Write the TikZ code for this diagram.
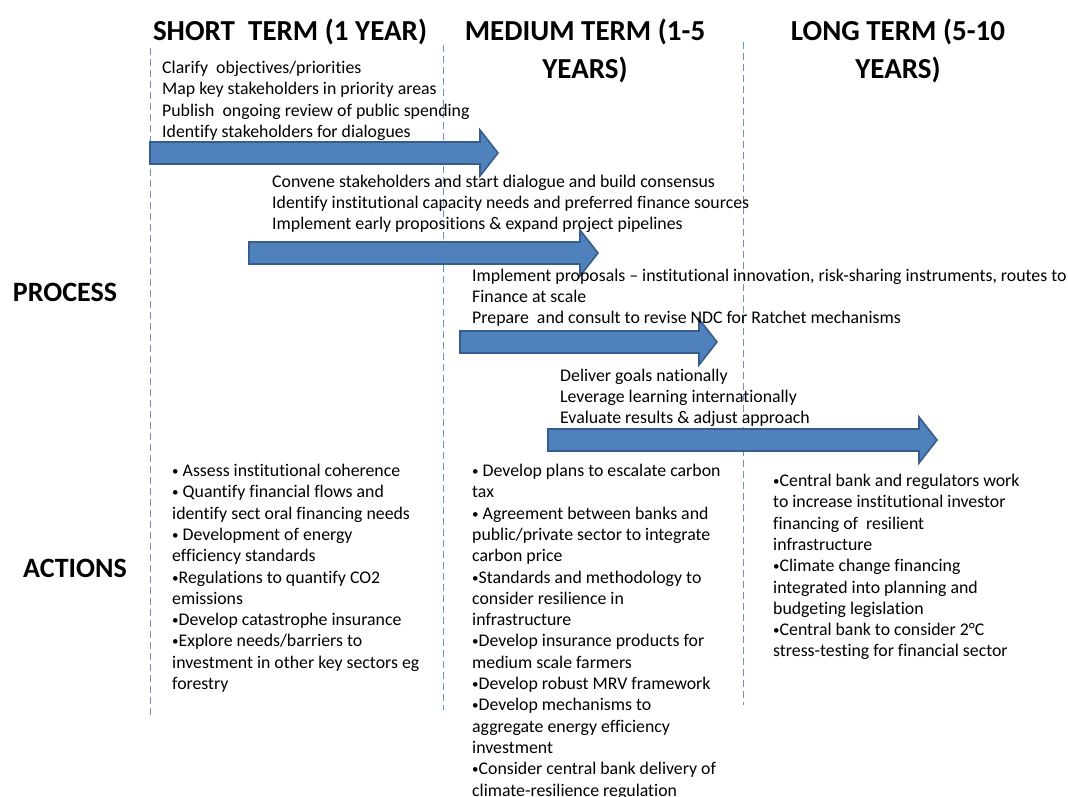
\documentclass[tikz,border=0pt]{standalone}
\usepackage{fontspec}
\setmainfont{Carlito}[Ligatures=CommonOff]
\newcommand\bul{\raisebox{0.12ex}{\fontsize{13}{13}\selectfont•}}
\begin{document}
\begin{tikzpicture}[x=1pt,y=-1pt,
  divider/.style={line width=0.8pt, dash pattern=on 7pt off 4pt, opacity=0.85},
  bigarrow/.style={fill={rgb,255:red,79;green,129;blue,189}, draw={rgb,255:red,56;green,93;blue,138}, line width=1.6pt, line join=miter},
  header/.style={font=\fontsize{29}{38}\selectfont\bfseries, align=center, inner sep=0pt, anchor=base},
  rowlabel/.style={font=\fontsize{28}{30}\selectfont\bfseries, inner sep=0pt},
  body/.style={font=\fontsize{17.8}{21.3}\selectfont, align=left, inner sep=0pt, anchor=north west},
]
\useasboundingbox (0,0) rectangle (1068,796);
\definecolor{divc}{RGB}{79,129,189}
% dividers
\coordinate (d1t) at (150,48); \coordinate (d1b) at (150,716);
\coordinate (d2t) at (443,45); \coordinate (d2b) at (443,710);
\coordinate (d3t) at (743,42); \coordinate (d3b) at (743,705);
\draw[divider, draw=divc] (d1t) -- (d1b);
\draw[divider, draw=divc] (d2t) -- (d2b);
\draw[divider, draw=divc] (d3t) -- (d3b);
% headers
\node[header] (hs) at (290,40) {SHORT\ \ TERM (1 YEAR)};
\node[header] (hm) at (585,40) {MEDIUM TERM (1-5};
\node[header] (hm2) at (585,78) {YEARS)};
\node[header] (hl) at (898,40) {LONG TERM (5-10};
\node[header] (hl2) at (898,78) {YEARS)};
% row labels
\node[rowlabel] (proc) at (65,292) {PROCESS};
\node[rowlabel] (act) at (75,568) {ACTIONS};
% arrows
\draw[bigarrow] (150,142) -- (480,142) -- (480,130) -- (498,153) -- (480,176) -- (480,164) -- (150,164) -- cycle;
\draw[bigarrow] (249,242) -- (580,242) -- (580,230) -- (598,253) -- (580,276) -- (580,264) -- (249,264) -- cycle;
\draw[bigarrow] (460,331) -- (699,331) -- (699,319) -- (717,342) -- (699,365) -- (699,353) -- (460,353) -- cycle;
\draw[bigarrow] (548,429) -- (919,429) -- (919,417) -- (937,440) -- (919,463) -- (919,451) -- (548,451) -- cycle;
% process texts
\node[body] (p1) at (162,61) {Clarify\ \ objectives/priorities\\Map key stakeholders in priority areas\\Publish\ \ ongoing review of public spending\\Identify stakeholders for dialogues};
\node[body] (p2) at (272,174.5) {Convene stakeholders and start dialogue and build consensus\\Identify institutional capacity needs and preferred finance sources\\Implement early propositions \& expand project pipelines};
\node[body] (p3) at (472,268.5) {Implement proposals – institutional innovation, risk-sharing instruments, routes to\\Finance at scale\\Prepare\ \ and consult to revise NDC for Ratchet mechanisms};
\node[body] (p4) at (560,368.5) {Deliver goals nationally\\Leverage learning internationally\\Evaluate results \& adjust approach};
% actions
\node[body] (a1) at (172,464) {\bul\ Assess institutional coherence\\\bul\ Quantify financial flows and\\identify sect oral financing needs\\\bul\ Development of energy\\efficiency standards\\\bul Regulations to quantify CO2\\emissions\\\bul Develop catastrophe insurance\\\bul Explore needs/barriers to\\investment in other key sectors eg\\forestry};
\node[body] (a2) at (472,464) {\bul\ Develop plans to escalate carbon\\tax\\\bul\ Agreement between banks and\\public/private sector to integrate\\carbon price\\\bul Standards and methodology to\\consider resilience in\\infrastructure\\\bul Develop insurance products for\\medium scale farmers\\\bul Develop robust MRV framework\\\bul Develop mechanisms to\\aggregate energy efficiency\\investment\\\bul Consider central bank delivery of\\climate-resilience regulation};
\node[body] (a3) at (773,474) {\bul Central bank and regulators work\\to increase institutional investor\\financing of\ \ resilient\\infrastructure\\\bul Climate change financing\\integrated into planning and\\budgeting legislation\\\bul Central bank to consider 2°C\\stress-testing for financial sector};
\end{tikzpicture}
\end{document}
